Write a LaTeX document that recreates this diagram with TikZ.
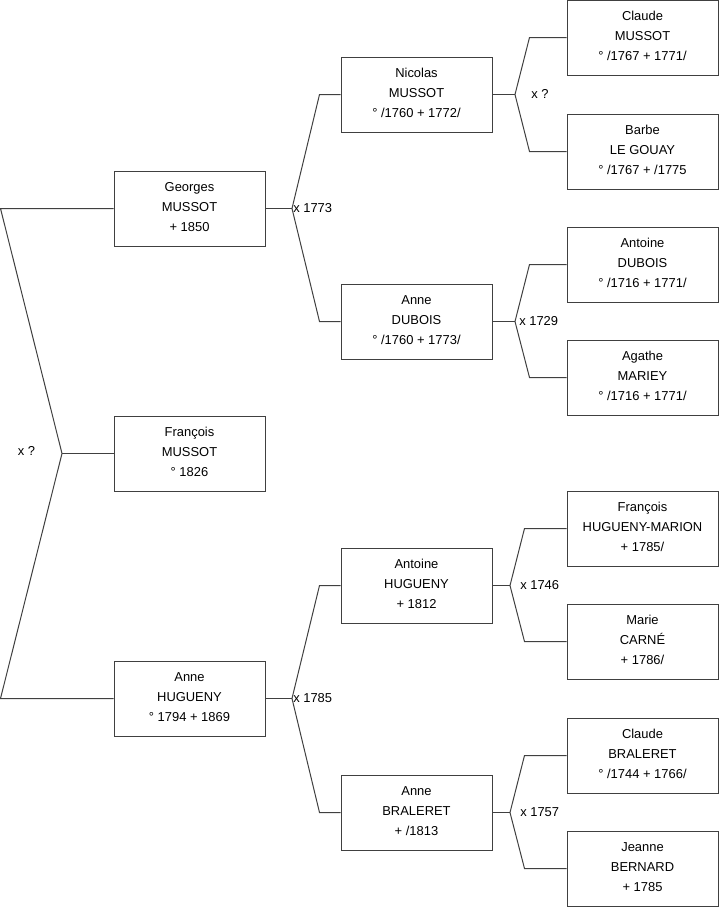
\documentclass[tikz,border=0pt]{standalone}
\usepackage{fontspec}
\setmainfont{Liberation Sans}
\usetikzlibrary{calc}
\begin{document}
\begin{tikzpicture}[x=0.75pt,y=-0.75pt,
  person/.style={draw=black!75,line width=0.75pt,fill=white,rectangle,minimum width=113.25pt,minimum height=56.25pt,inner sep=0pt,align=center,text height=36pt,text depth=2pt,font=\fontsize{9.7}{15}\selectfont},
  conn/.style={draw=black!75,line width=0.75pt},
  lbl/.style={inner sep=0.75pt,font=\fontsize{9.7}{11}\selectfont,text=black}]
\useasboundingbox (0,0) rectangle (719,908);
% level 1
\node[person] (G) at (189.5,208.5) {Georges\\MUSSOT\\+ 1850};
\node[person] (F) at (189.5,453.5) {François\\MUSSOT\\° 1826};
\node[person] (AH) at (189.5,698.5) {Anne\\HUGUENY\\° 1794 + 1869};
% level 2
\node[person] (N) at (416.5,94.5) {Nicolas\\MUSSOT\\° /1760 + 1772/};
\node[person] (AD) at (416.5,321.5) {Anne\\DUBOIS\\° /1760 + 1773/};
\node[person] (AnH) at (416.5,585.5) {Antoine\\HUGUENY\\+ 1812};
\node[person] (AB) at (416.5,812.5) {Anne\\BRALERET\\+ /1813};
% level 3
\node[person] (CM) at (642.5,37.5) {Claude\\MUSSOT\\° /1767 + 1771/};
\node[person] (BLG) at (642.5,151.5) {Barbe\\LE GOUAY\\° /1767 + /1775};
\node[person] (AnD) at (642.5,264.5) {Antoine\\DUBOIS\\° /1716 + 1771/};
\node[person] (AgM) at (642.5,377.5) {Agathe\\MARIEY\\° /1716 + 1771/};
\node[person] (FHM) at (642.5,528.5) {François\\HUGUENY-MARION\\+ 1785/};
\node[person] (MC) at (642.5,641.5) {Marie\\CARNÉ\\+ 1786/};
\node[person] (CB) at (642.5,755.5) {Claude\\BRALERET\\° /1744 + 1766/};
\node[person] (JB) at (642.5,868.5) {Jeanne\\BERNARD\\+ 1785};
% fork vertices
\coordinate (v0) at (62,453.5);
\coordinate (vG) at (292,208.5);
\coordinate (vAH) at (292,698.5);
\coordinate (vN) at (515,94.5);
\coordinate (vAD) at (515,321.5);
\coordinate (vAnH) at (510,585.5);
\coordinate (vAB) at (510,812.5);
% level 1 fork
\draw[conn] (G.west) -- ++(-113,0) -- (v0) -- ($(AH.west)+(-113,0)$) -- (AH.west);
\draw[conn] (F.west) -- (v0);
\node[lbl] (l0) at (26.5,451) {x ?};
% level 2 forks
\draw[conn] (G.east) -- (vG);
\draw[conn] (N.west) -- ++(-21,0) -- (vG) -- ($(AD.west)+(-21,0)$) -- (AD.west);
\node[lbl,anchor=west] (lG) at (vG) {x 1773};
\draw[conn] (AH.east) -- (vAH);
\draw[conn] (AnH.west) -- ++(-21,0) -- (vAH) -- ($(AB.west)+(-21,0)$) -- (AB.west);
\node[lbl,anchor=west] (lAH) at (vAH) {x 1785};
% level 3 forks
\draw[conn] (N.east) -- (vN);
\draw[conn] (CM.west) -- ++(-37,0) -- (vN) -- ($(BLG.west)+(-37,0)$) -- (BLG.west);
\node[lbl] (lN) at (540,93.5) {x ?};
\draw[conn] (AD.east) -- (vAD);
\draw[conn] (AnD.west) -- ++(-37,0) -- (vAD) -- ($(AgM.west)+(-37,0)$) -- (AgM.west);
\node[lbl,anchor=west] (lAD) at ($(vAD)+(3,0)$) {x 1729};
\draw[conn] (AnH.east) -- (vAnH);
\draw[conn] (FHM.west) -- ++(-42,0) -- (vAnH) -- ($(MC.west)+(-42,0)$) -- (MC.west);
\node[lbl,anchor=west] (lAnH) at ($(vAnH)+(9,0)$) {x 1746};
\draw[conn] (AB.east) -- (vAB);
\draw[conn] (CB.west) -- ++(-42,0) -- (vAB) -- ($(JB.west)+(-42,0)$) -- (JB.west);
\node[lbl,anchor=west] (lAB) at ($(vAB)+(9,0)$) {x 1757};
\end{tikzpicture}
\end{document}
